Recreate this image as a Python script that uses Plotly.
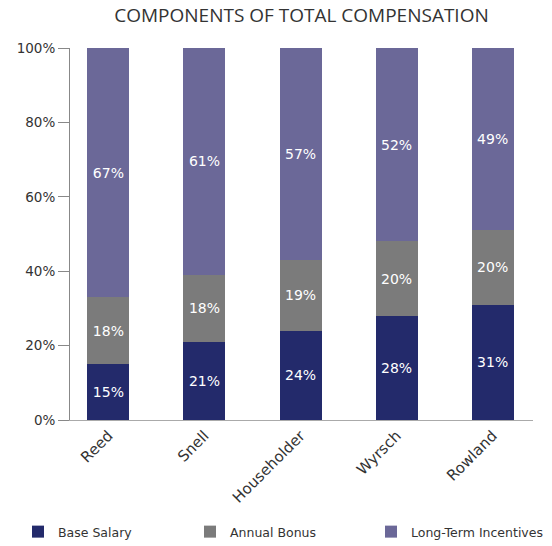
import plotly.graph_objects as go

names = ["Reed", "Snell", "Householder", "Wyrsch", "Rowland"]
base_salary = [15, 21, 24, 28, 31]
annual_bonus = [18, 18, 19, 20, 20]
long_term = [67, 61, 57, 52, 49]
series_names = ["Base Salary", "Annual Bonus", "Long-Term Incentives"]
colors = ["#232a6b", "#7b7b7b", "#6b6898"]
y_ticks = [0, 20, 40, 60, 80, 100]
y_tick_text = ["0%", "20%", "40%", "60%", "80%", "100%"]

FONT = "DejaVu Sans"
W, H = 552, 546
legend_ids = ["legend", "legend2", "legend3"]
legend_x = [18, 190, 371]

fig = go.Figure()
for name, vals, col, lg in zip(series_names, [base_salary, annual_bonus, long_term], colors, legend_ids):
    fig.add_trace(go.Bar(
        x=names, y=vals, name=name, marker=dict(color=col, line=dict(width=0)),
        text=[f"{v}%" for v in vals], textposition="inside", insidetextanchor="middle",
        textfont=dict(color="white", size=14, family=FONT), textangle=0,
        legend=lg, showlegend=True,
    ))

legend_common = dict(orientation="h", xref="container", xanchor="left",
                     yref="container", y=1 - 532 / H, yanchor="middle",
                     font=dict(size=12.5, color="#333333", family=FONT),
                     bgcolor="rgba(0,0,0,0)", borderwidth=0, visible=True)

fig.update_layout(
    barmode="stack", bargap=0.5625,
    width=W, height=H, showlegend=True,
    margin=dict(l=70, r=19, t=48, b=126, autoexpand=False),
    plot_bgcolor="white", paper_bgcolor="white",
    font=dict(family=FONT, color="#333333", size=13),
    title=dict(text="COMPONENTS OF TOTAL COMPENSATION", x=0.5, xref="paper",
               y=1 - 15 / H, yref="container", xanchor="center", yanchor="middle",
               font=dict(size=19, color="#333333", family="Open Sans")),
    xaxis=dict(range=[-0.4, 4.42], showline=True, linecolor="#aaaaaa", linewidth=1,
               ticks="", tickangle=-45, tickfont=dict(size=15, color="#333333", family=FONT),
               showgrid=False, zeroline=False),
    yaxis=dict(range=[0, 100], tickvals=y_ticks, ticktext=y_tick_text,
               showline=True, linecolor="#888888", linewidth=1,
               ticks="outside", ticklen=11, tickcolor="#888888",
               showgrid=False, zeroline=False,
               tickfont=dict(size=13.5, color="#333333", family=FONT)),
    legend=dict(x=legend_x[0] / W, **legend_common),
    legend2=dict(x=legend_x[1] / W, **legend_common),
    legend3=dict(x=legend_x[2] / W, **legend_common),
)
fig.write_html("out.html", config={"displayModeBar": False},
               post_script="document.body.style.margin='0';")
